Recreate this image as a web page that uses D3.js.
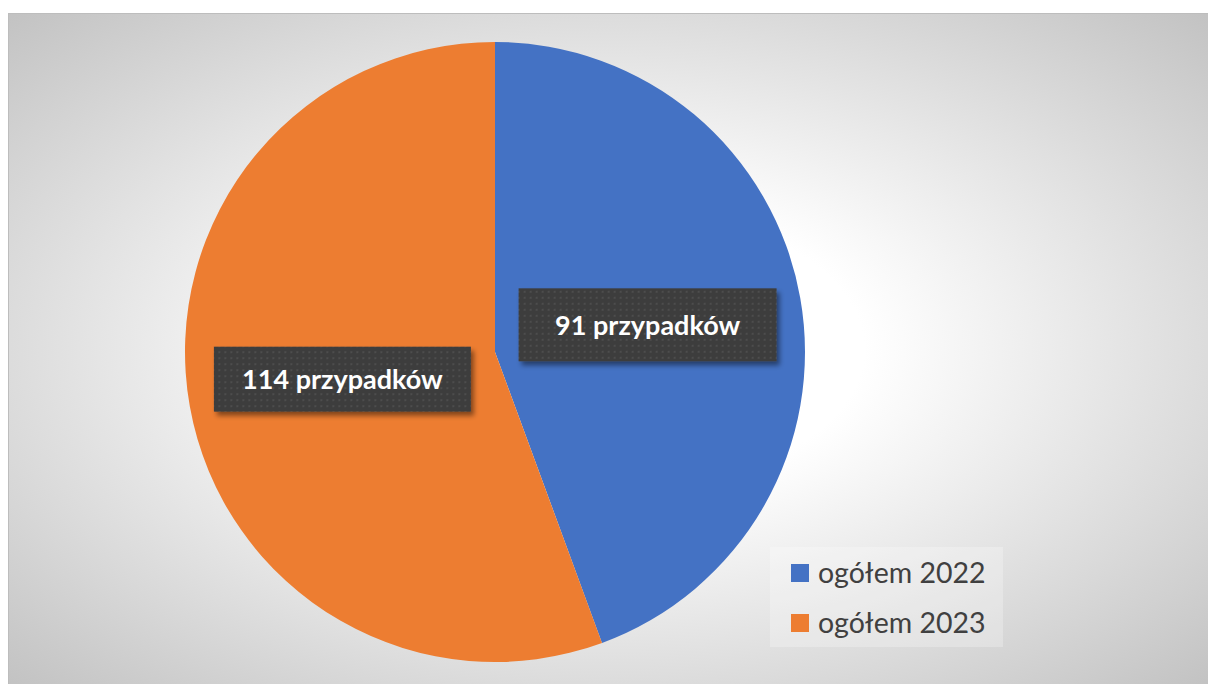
<!DOCTYPE html>
<html>
<head>
<meta charset="utf-8">
<script src="https://cdn.jsdelivr.net/npm/d3@7"></script>
<style>
  html, body { margin: 0; padding: 0; background: #ffffff; }
  svg { display: block; }
</style>
</head>
<body>
<svg id="chart" width="1208" height="684"></svg>
<script>
// data
const categories = ["ogółem 2022", "ogółem 2023"];
const values = [91, 114];
const labels = ["91 przypadków", "114 przypadków"];
const colors = ["#4472c4", "#ed7d31"];

let svg = d3.select("#chart");
let area = { x: 8, y: 13, w: 1200, h: 671 };
let cx = 495, cy = 352, radius = 310;

let defs = svg.append("defs");

// radial background like the office style
let grad = defs.append("radialGradient").attr("id", "bg")
    .attr("cx", "0.5").attr("cy", "0.5").attr("r", "0.71");
grad.append("stop").attr("offset", "0%").attr("stop-color", "#ffffff");
grad.append("stop").attr("offset", "30%").attr("stop-color", "#ffffff");
grad.append("stop").attr("offset", "100%").attr("stop-color", "#c2c2c2");

// dotted texture for the label boxes
let pat = defs.append("pattern").attr("id", "dots")
    .attr("patternUnits", "userSpaceOnUse")
    .attr("width", 6).attr("height", 6);
pat.append("rect").attr("width", 6).attr("height", 6).attr("fill", "#3d3d3d");
pat.append("rect").attr("x", 2).attr("y", 2).attr("width", 2).attr("height", 2).attr("fill", "#4d4d4d");

let shadow = defs.append("filter").attr("id", "shadow")
    .attr("x", "-10%").attr("y", "-20%").attr("width", "130%").attr("height", "160%");
shadow.append("feDropShadow")
    .attr("dx", 3).attr("dy", 4).attr("stdDeviation", 2.5)
    .attr("flood-color", "#000").attr("flood-opacity", 0.45);

svg.append("rect")
    .attr("x", area.x + 0.5).attr("y", area.y + 0.5)
    .attr("width", area.w).attr("height", area.h)
    .attr("fill", "url(#bg)")
    .attr("stroke", "#bdbdbd");

let pie = d3.pie().sort(null).value(d => d)(values);
let arc = d3.arc().innerRadius(0).outerRadius(radius);
let labelArc = d3.arc().innerRadius(radius / 2).outerRadius(radius / 2);

let g = svg.append("g").attr("transform", `translate(${cx},${cy})`);

g.selectAll(".slice")
    .data(pie)
    .enter().append("path")
    .attr("class", "slice")
    .attr("d", arc)
    .attr("fill", (d, i) => colors[i]);

// label boxes, sized like the reference
let boxSize = [[258, 73], [257, 65]];
let lab = g.selectAll(".lab")
    .data(pie)
    .enter().append("g")
    .attr("class", "lab")
    .attr("transform", d => `translate(${labelArc.centroid(d)})`);

lab.append("rect")
    .attr("x", (d, i) => -boxSize[i][0] / 2)
    .attr("y", (d, i) => -boxSize[i][1] / 2)
    .attr("width", (d, i) => boxSize[i][0])
    .attr("height", (d, i) => boxSize[i][1])
    .attr("fill", "url(#dots)")
    .attr("filter", "url(#shadow)");

lab.append("text")
    .attr("text-anchor", "middle")
    .attr("dy", "0.36em")
    .attr("fill", "#ffffff")
    .style("font-family", "Lato, 'Open Sans', sans-serif")
    .style("font-weight", "bold")
    .style("font-size", "27px")
    .text((d, i) => labels[i]);

// legend
let legend = svg.append("g").attr("transform", "translate(770,547)");
legend.append("rect")
    .attr("width", 233).attr("height", 100)
    .attr("fill", "#ffffff").attr("fill-opacity", 0.25);

let item = legend.selectAll(".item")
    .data(categories)
    .enter().append("g")
    .attr("class", "item")
    .attr("transform", (d, i) => `translate(21,${26 + i * 50})`);

item.append("rect")
    .attr("y", -9).attr("width", 18).attr("height", 18)
    .attr("fill", (d, i) => colors[i]);

item.append("text")
    .attr("x", 27)
    .attr("dy", "0.36em")
    .attr("fill", "#404040")
    .style("font-family", "Lato, 'Open Sans', sans-serif")
    .style("font-size", "28.5px")
    .text(d => d);
</script>
</body>
</html>
